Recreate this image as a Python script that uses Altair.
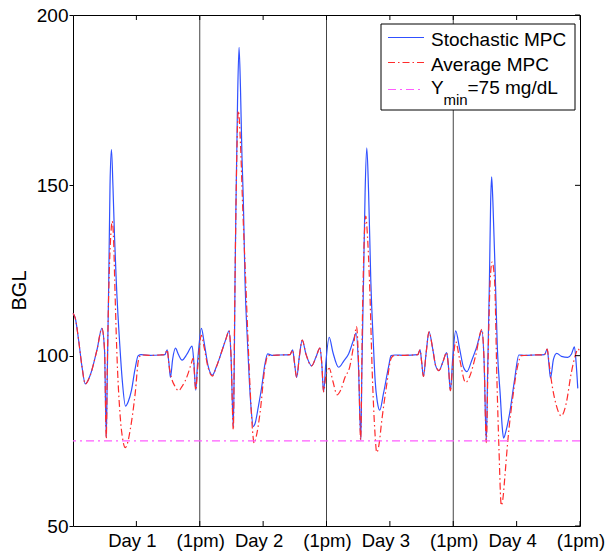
import altair as alt
import pandas as pd

# Blood glucose level (mg/dL) over four days, time in hours from the start.
stoch_t = [
    0.00, 0.43, 1.06, 1.70, 2.33, 3.27, 4.54, 5.48, 5.97, 6.30, 6.48, 6.77, 7.01, 7.28, 7.56,
    7.86, 8.19, 8.88, 9.32, 9.94, 10.45, 11.08, 11.72, 12.34, 12.91, 14.61, 16.50, 17.39, 17.83,
    18.15, 18.45, 18.87, 19.41, 19.92, 20.66, 21.61, 22.55, 22.89, 23.25, 23.59, 24.31,
    24.82, 25.58, 26.39, 27.09, 28.22, 28.98, 29.55, 29.92, 30.36, 30.55, 30.68, 30.87, 31.16,
    31.44, 31.72, 32.00, 32.25, 32.57, 33.08, 33.38, 33.70, 34.14, 34.46, 35.09, 35.73, 36.35,
    36.86, 37.68, 39.19, 41.08, 41.59, 41.93, 42.35, 42.88, 43.40, 44.10, 45.18, 45.99, 46.75,
    47.09, 47.45, 47.88, 48.51,
    49.21, 50.29, 51.29, 52.18, 52.99, 53.61, 54.03, 54.50, 54.69, 55.01, 55.31, 55.63, 55.97,
    56.39, 56.90, 57.20, 57.62, 58.09, 58.79, 59.74, 60.23, 60.93, 62.82, 65.28, 65.71, 66.03,
    66.35, 66.88, 67.41, 68.11, 68.68, 69.30, 70.00, 70.76, 71.08, 71.46, 71.89, 72.46,
    73.21, 73.96, 74.59, 75.48, 76.43, 77.43, 77.85, 78.26, 78.51, 78.85, 79.08, 79.27, 79.51,
    79.98, 80.34, 80.91, 81.25, 81.53, 82.00, 82.67, 83.61, 84.42, 85.50, 87.39, 89.28, 89.79,
    90.09, 90.41, 90.98, 91.60, 92.49, 93.68, 94.39, 94.95, 95.26, 95.58,
]
stoch_v = [
    112.4, 111.0, 104.6, 96.8, 91.7, 94.3, 101.7, 108.0, 101.7, 76.2, 93.0, 122.0, 150.0, 160.5, 150.0,
    135.0, 122.0, 102.6, 92.9, 85.2, 86.5, 89.9, 95.8, 100.0, 100.3, 100.1, 100.2, 100.3, 101.7,
    98.0, 93.6, 99.0, 102.2, 100.5, 98.7, 100.5, 102.8, 98.0, 89.9, 98.0, 108.0,
    104.0, 97.0, 94.3, 96.5, 101.5, 105.0, 107.3, 100.0, 79.2, 100.0, 122.0, 145.7, 175.0,
    190.5, 178.0, 158.0, 145.7, 122.0, 102.6, 92.9, 85.0, 79.2, 80.0, 85.0, 90.8, 97.6,
    100.5, 100.1, 100.2, 100.3, 101.7, 98.0, 93.6, 100.0, 104.6, 100.5, 97.0, 99.5, 102.2,
    98.0, 89.4, 98.0, 105.4,
    101.0, 96.6, 98.5, 100.5, 104.0, 106.6, 98.0, 75.3, 95.0, 122.0, 148.0, 161.0, 148.0,
    122.0, 102.6, 92.9, 86.5, 84.0, 88.9, 96.6, 100.0, 100.2, 100.1, 100.3, 101.7, 98.0,
    93.9, 101.0, 107.0, 102.0, 97.0, 95.6, 98.0, 100.9, 97.0, 89.7, 99.0, 107.3,
    102.0, 96.5, 95.3, 98.5, 102.5, 107.3, 98.0, 74.8, 95.0, 122.0, 145.0, 152.5, 145.0,
    122.0, 102.6, 88.2, 79.5, 75.8, 78.0, 83.0, 92.9, 100.2, 100.1, 100.2, 100.3, 101.9,
    98.0, 93.4, 99.0, 100.7, 99.8, 99.5, 100.5, 102.6, 98.0, 90.4,
]

avg_t = [
    0.00, 0.43, 1.06, 1.70, 2.33, 3.27, 4.54, 5.48, 5.97, 6.30, 6.48, 6.82, 7.14, 7.43, 7.71,
    7.90, 8.28, 8.94, 9.41, 9.89, 10.36, 10.83, 11.78, 12.40, 12.91, 14.61, 16.50, 17.39, 17.83,
    18.20, 18.64, 19.31, 20.00, 20.66, 21.23, 21.80, 22.36, 22.74, 23.25, 23.59, 24.31,
    24.82, 25.58, 26.39, 27.09, 28.22, 28.98, 29.55, 29.92, 30.36, 30.59, 30.87, 31.31, 31.72,
    32.10, 32.70, 33.19, 33.61, 33.99, 34.31, 34.73, 35.40, 36.35, 36.91, 37.68, 39.19, 41.08,
    41.59, 41.93, 42.35, 42.88, 43.40, 44.10, 45.18, 45.99, 46.75, 47.09, 47.45, 47.88, 48.51,
    49.21, 50.02, 50.72, 51.47, 52.41, 53.08, 53.69, 54.07, 54.47, 54.79, 55.16, 55.44, 55.76,
    56.14, 56.71, 57.15, 57.52, 57.90, 58.47, 59.41, 60.23, 60.74, 62.82, 65.28, 65.71, 66.03,
    66.35, 66.88, 67.41, 68.11, 68.68, 69.30, 70.00, 70.76, 71.08, 71.46, 71.89, 72.46,
    73.21, 74.34, 75.01, 76.24, 77.43, 77.85, 78.26, 78.61, 78.99, 79.36, 79.83, 80.27, 80.64,
    81.10, 81.44, 81.72, 82.35, 83.29, 84.24, 84.88, 87.39, 89.28, 89.79, 90.13, 90.55, 91.50,
    92.44, 93.39, 94.33, 95.14, 95.62, 95.99,
]
avg_v = [
    112.4, 111.0, 104.6, 96.8, 91.7, 94.3, 101.7, 108.0, 101.7, 75.6, 95.0, 122.0, 135.0, 139.5, 133.0,
    122.0, 102.0, 82.1, 75.5, 73.0, 74.5, 78.2, 89.0, 98.7, 100.2, 100.1, 100.2, 100.3, 101.7,
    97.0, 93.5, 91.0, 89.7, 91.0, 92.5, 94.8, 97.5, 99.2, 89.9, 96.0, 106.0,
    102.5, 96.5, 94.0, 96.5, 101.5, 105.0, 107.3, 100.0, 78.2, 110.0, 145.0, 171.9, 162.0,
    145.0, 122.0, 102.6, 88.0, 78.0, 74.3, 76.5, 83.0, 96.6, 100.0, 100.1, 100.2, 100.3,
    101.7, 98.0, 93.6, 100.0, 104.6, 100.5, 97.0, 99.5, 102.2, 98.0, 89.4, 94.0, 96.3,
    92.5, 88.5, 90.0, 93.5, 96.8, 102.5, 108.5, 98.0, 75.3, 110.0, 135.0, 141.0, 135.0,
    122.0, 92.9, 78.0, 71.6, 73.5, 81.0, 91.6, 99.2, 100.0, 100.1, 100.3, 101.7, 98.0,
    93.9, 101.0, 107.0, 102.0, 97.0, 95.6, 98.0, 100.9, 97.0, 89.7, 97.0, 104.1,
    99.0, 92.1, 93.5, 100.0, 107.7, 98.0, 74.5, 100.0, 122.0, 127.5, 122.0, 92.9, 73.4,
    56.0, 58.5, 63.5, 75.3, 88.0, 97.3, 100.0, 100.2, 100.3, 101.9, 98.0, 93.0, 85.5,
    82.3, 86.0, 94.8, 100.2, 102.0, 101.0,
]

ymin_level = 75
day_boundaries = [24, 48, 72]
x_tick_hours = [12, 24, 36, 48, 60, 72, 84, 96]
x_tick_labels = ["Day 1", "(1pm)", "Day 2", "(1pm)", "Day 3", "(1pm)", "Day 4", "(1pm)"]
y_tick_values = [50, 100, 150, 200]
legend_labels = ["Stochastic MPC", "Average MPC"]

W, H = 507, 511
FONT = "Liberation Sans"
BLUE = "#3050ff"
RED = "#ff2b2b"
MAGENTA = "#ff5cff"

x_scale = alt.Scale(domain=[0, 96], nice=False, zero=False)
y_scale = alt.Scale(domain=[50, 200], nice=False, zero=False)
y_axis = alt.Axis(
    values=y_tick_values, format="d", grid=False, domain=False,
    tickSize=4, tickColor="black", tickWidth=1,
    labelFont=FONT, labelFontSize=19, labelColor="black", labelPadding=1,
    labelFlush=False, labelOverlap=False,
    title="BGL", titleFont=FONT, titleFontSize=20, titleFontWeight="normal",
    titleColor="black", titleAngle=270, titleAlign="center", titleBaseline="middle",
    titleX=-54, titleY=275,
)


def xq(field):
    return alt.X(f"{field}:Q", scale=x_scale, axis=None)


def yq(field):
    return alt.Y(f"{field}:Q", scale=y_scale, axis=y_axis)


def one_row():
    return alt.Chart(pd.DataFrame({"k": [0]}))


stoch_df = pd.DataFrame({"t": stoch_t, "v": stoch_v})
avg_df = pd.DataFrame({"t": avg_t, "v": avg_v})

stoch_line = alt.Chart(stoch_df).mark_line(
    color=BLUE, strokeWidth=1.2, interpolate="monotone"
).encode(x=xq("t"), y=yq("v"), order="t:Q")

avg_line = alt.Chart(avg_df).mark_line(
    color=RED, strokeWidth=1.2, interpolate="monotone", strokeDash=[7, 3, 1.5, 3]
).encode(x=xq("t"), y=yq("v"), order="t:Q")

ymin_rule = alt.Chart(pd.DataFrame({"y": [ymin_level]})).mark_rule(
    color=MAGENTA, strokeWidth=1.2, strokeDash=[8, 4, 2, 4]
).encode(y=yq("y"))

day_rules = alt.Chart(pd.DataFrame({"d": day_boundaries})).mark_rule(
    color="#444444", strokeWidth=1
).encode(x=xq("d"))

# inward tick marks on the bottom, top and right edges of the frame
xt = pd.DataFrame({"h": x_tick_hours})
bottom_ticks = alt.Chart(xt).mark_rule(color="black").encode(
    x=xq("h"), y=alt.value(H), y2=alt.value(H - 5))
top_ticks = alt.Chart(xt).mark_rule(color="black").encode(
    x=xq("h"), y=alt.value(0), y2=alt.value(5))
right_ticks = alt.Chart(pd.DataFrame({"yt": y_tick_values})).mark_rule(color="black").encode(
    y=yq("yt"), x=alt.value(W), x2=alt.value(W - 5))

# x tick labels
xl = pd.DataFrame({"h": x_tick_hours, "lab": x_tick_labels})
day_labels = alt.Chart(xl).transform_filter(
    "indexof(datum.lab, 'Day') == 0").mark_text(
    font=FONT, fontSize=18.5, color="black", baseline="alphabetic", align="center", dx=-4
).encode(x=xq("h"), y=alt.value(532), text="lab:N")
pm_labels = alt.Chart(xl).transform_filter(
    "indexof(datum.lab, 'Day') != 0").mark_text(
    font=FONT, fontSize=18.5, color="black", baseline="alphabetic", align="center", dx=1
).encode(x=xq("h"), y=alt.value(532), text="lab:N")

# legend
legend_box = one_row().mark_rect(fill="white", stroke="black", strokeWidth=1).encode(
    x=alt.value(308), x2=alt.value(502), y=alt.value(9), y2=alt.value(95))
leg_blue = one_row().mark_rule(color=BLUE, strokeWidth=1.2).encode(
    x=alt.value(315), x2=alt.value(351), y=alt.value(22.5))
leg_red = one_row().mark_rule(color=RED, strokeWidth=1.2, strokeDash=[7, 3, 1.5, 3]).encode(
    x=alt.value(315), x2=alt.value(351), y=alt.value(47.5))
leg_mag = one_row().mark_rule(color=MAGENTA, strokeWidth=1.2, strokeDash=[8, 4, 2, 4]).encode(
    x=alt.value(315), x2=alt.value(351), y=alt.value(74.5))
txt = dict(font=FONT, color="black", baseline="alphabetic", align="left")
leg_t1 = one_row().mark_text(fontSize=19, text=legend_labels[0], **txt).encode(
    x=alt.value(358), y=alt.value(30.7))
leg_t2 = one_row().mark_text(fontSize=19, text=legend_labels[1], **txt).encode(
    x=alt.value(358), y=alt.value(55.7))
leg_t3a = one_row().mark_text(fontSize=19, text="Y", **txt).encode(
    x=alt.value(358), y=alt.value(79.3))
leg_t3b = one_row().mark_text(fontSize=15, text="min", **txt).encode(
    x=alt.value(370.5), y=alt.value(90))
leg_t3c = one_row().mark_text(fontSize=19, text=f"={ymin_level} mg/dL", **txt).encode(
    x=alt.value(394.5), y=alt.value(79.3))

chart = alt.layer(
    day_rules, stoch_line, avg_line, ymin_rule,
    bottom_ticks, top_ticks, right_ticks, day_labels, pm_labels,
    legend_box, leg_blue, leg_red, leg_mag, leg_t1, leg_t2, leg_t3a, leg_t3b, leg_t3c,
).properties(
    width=W, height=H,
    padding={"left": 73, "top": 15, "right": 27, "bottom": 26},
    autosize=alt.AutoSizeParams(type="none"),
    background="white",
).configure_view(stroke="black", strokeWidth=1)

chart.save("out.html", embed_options={"renderer": "svg", "actions": False})
